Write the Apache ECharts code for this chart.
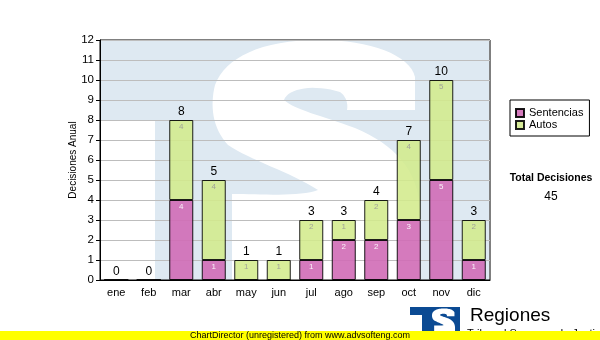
<!DOCTYPE html>
<html>
<head>
<meta charset="utf-8">
<script src="https://cdn.jsdelivr.net/npm/echarts@6/dist/echarts.min.js"></script>
<style>html,body{margin:0;padding:0;background:#fff;}#c{width:600px;height:340px;}</style>
</head>
<body>
<div id="c"></div>
<script>
var months = ['ene','feb','mar','abr','may','jun','jul','ago','sep','oct','nov','dic'];
var sentencias = [0,0,4,1,0,0,1,2,2,3,5,1];
var autos = [0,0,4,4,1,1,2,1,2,4,5,2];
var totals = [0,0,8,5,1,1,3,3,4,7,10,3];
var yTicks = [0,1,2,3,4,5,6,7,8,9,10,11,12];
var totalDecisiones = 45;
var zeros = months.map(function(){return 0;});

var chart = echarts.init(document.getElementById('c'), null, {renderer:'canvas'});
var F = '"Liberation Sans", Arial, sans-serif';

// Background "S" logo outline (decoration): start point, then cubic (C) / line (L) segments
var S_START = [415,77];
var S_SEGS = [
  ['C',410,55,370,40,320,40],['C',260,40,225,58,215,85],['C',210,105,212,128,228,145],
  ['C',250,160,290,172,318,190],['C',300,197,260,194,232,194],['L',232,340],['L',420,340],['L',420,210],
  ['C',418,170,395,145,355,128],['C',320,115,295,110,284,100],['C',288,88,315,84,340,92],
  ['C',347,97,348,105,347,110],['L',415,110]
];
function sPoints(sx, sy, tx, ty){
  var pts = [], cur = S_START.slice();
  function push(p){ pts.push([p[0]*sx+tx, p[1]*sy+ty]); }
  push(cur);
  S_SEGS.forEach(function(s){
    if (s[0]==='L'){ cur=[s[1],s[2]]; push(cur); }
    else {
      var p0=cur, p1=[s[1],s[2]], p2=[s[3],s[4]], p3=[s[5],s[6]];
      for (var i=1;i<=16;i++){
        var t=i/16, u=1-t;
        push([u*u*u*p0[0]+3*u*u*t*p1[0]+3*u*t*t*p2[0]+t*t*t*p3[0],
              u*u*u*p0[1]+3*u*u*t*p1[1]+3*u*t*t*p2[1]+t*t*t*p3[1]]);
      }
      cur=p3;
    }
  });
  return pts;
}
var innerLabel = function(color){
  return {show:true, position:'insideTop', distance:3, fontSize:8, fontFamily:F, color:color,
    formatter:function(p){return p.value ? String(p.value) : '';}};
};
chart.setOption({
  animation:false,
  textStyle:{fontFamily:F},
  grid:{left:100, top:40, right:110, bottom:60, show:true, borderColor:'#000', borderWidth:1, backgroundColor:'transparent'},
  legend:{
    data:['Sentencias','Autos'], orient:'vertical', left:510, top:100,
    padding:[7,6,5,5], itemGap:0, itemWidth:8, itemHeight:8, icon:'rect',
    borderColor:'#000', borderWidth:1, borderRadius:0,
    textStyle:{fontSize:11, fontFamily:F, color:'#000', lineHeight:12}
  },
  xAxis:{
    type:'category', data:months,
    axisLine:{lineStyle:{color:'#000', width:1}},
    axisTick:{alignWithLabel:true, length:4, lineStyle:{color:'#000'}},
    axisLabel:{fontSize:11, color:'#000', margin:7, fontFamily:F}
  },
  yAxis:{
    type:'value', min:0, max:12, interval:1,
    name:'Decisiones Anual', nameLocation:'middle', nameGap:22, nameMoveOverlap:false,
    nameTextStyle:{fontSize:10, color:'#000', fontFamily:F},
    axisLine:{show:true, lineStyle:{color:'#000', width:1}},
    axisTick:{show:true, length:4, lineStyle:{color:'#000'}},
    axisLabel:{fontSize:11.5, color:'#000', margin:6, fontFamily:F,
      formatter:function(v){return yTicks.indexOf(v)>=0 ? String(v) : '';}},
    splitLine:{show:true, lineStyle:{color:'#bdbdbd', width:1}}
  },
  series:[
    {name:'Sentencias', type:'bar', stack:'t', data:sentencias, barWidth:24,
     itemStyle:{color:'#d06bb6', opacity:0.9, borderColor:'#000', borderWidth:1},
     label:innerLabel('#ffffff')},
    {name:'Autos', type:'bar', stack:'t', data:autos, barWidth:24,
     itemStyle:{color:'#d3ea8c', opacity:0.88, borderColor:'#000', borderWidth:1},
     label:innerLabel('#999999')},
    {name:'Total', type:'bar', stack:'t', data:zeros, barWidth:24,
     itemStyle:{color:'transparent', borderWidth:0},
     label:{show:true, position:'top', distance:2, fontSize:12, color:'#000', fontFamily:F,
       formatter:function(p){return String(totals[p.dataIndex]);}}}
  ],
  graphic:[
    {type:'polygon', z:-10, z2:0, silent:true,
     shape:{points:[[101,41],[489,41],[489,280],[155,280],[155,120],[101,120]]},
     style:{fill:'#dee9f2'}},
    {type:'polygon', z:-10, z2:1, silent:true,
     shape:{points:sPoints(1,1,0,0)}, style:{fill:'#ffffff'}},
    {type:'rect', z:-10, z2:2, silent:true, shape:{x:90, y:281, width:410, height:50}, style:{fill:'#fff'}},
    {type:'rect', z:-10, z2:2, silent:true, shape:{x:90, y:0, width:410, height:40}, style:{fill:'#fff'}},
    {type:'text', silent:true,
     style:{text:'Total Decisiones', x:551, y:178, fill:'#000', fontSize:10.5, fontWeight:'bold', fontFamily:F,
       align:'center', verticalAlign:'middle'}},
    {type:'text', silent:true,
     style:{text:String(totalDecisiones), x:551, y:197, fill:'#000', fontSize:12, fontFamily:F,
       align:'center', verticalAlign:'middle'}},
    {type:'polygon', silent:true, z2:0,
     shape:{points:[[410,307],[460,307],[460,331],[422,331],[422,315],[410,315]]},
     style:{fill:'#0b4a93'}},
    {type:'polygon', silent:true, z2:1,
     shape:{points:sPoints(0.111,0.111,408.4,304)}, style:{fill:'#ffffff'}},
    {type:'text', silent:true,
     style:{text:'Regiones', x:470, y:316, fill:'#000', fontSize:19, fontFamily:F,
       align:'left', verticalAlign:'middle'}},
    {type:'text', silent:true,
     style:{text:'Tribunal Supremo de Justicia', x:467, y:328, fill:'#000', fontSize:11, fontFamily:F,
       align:'left', verticalAlign:'top'}},
    {type:'rect', silent:true, z2:5, shape:{x:0, y:331, width:600, height:9}, style:{fill:'#ffff00'}},
    {type:'text', silent:true, z2:6,
     style:{text:'ChartDirector (unregistered) from www.advsofteng.com', x:300, y:335.5, fill:'#000', fontSize:9, fontFamily:F,
       align:'center', verticalAlign:'middle'}}
  ]
});
</script>
</body>
</html>
